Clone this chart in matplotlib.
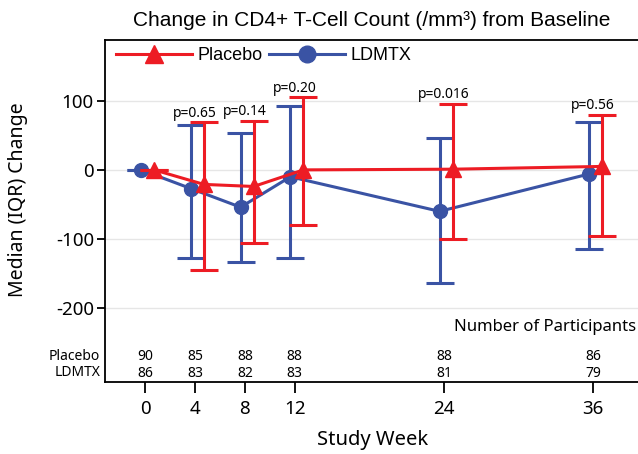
# CD4+ change from baseline, placebo vs LDMTX, median (IQR) by week
import numpy as np
import matplotlib
matplotlib.use("Agg")
import matplotlib.pyplot as plt
import matplotlib.transforms as mtransforms
from matplotlib.lines import Line2D

plt.rcParams["axes.unicode_minus"] = False

weeks = [0, 4, 8, 12, 24, 36]

placebo_med = [0, -21, -24, 0, 1, 5]
placebo_q1 = [0, -145, -106, -80, -100, -96]
placebo_q3 = [0, 69, 71, 105, 96, 80]

ldmtx_med = [0, -27, -54, -10, -60, -6]
ldmtx_q1 = [0, -127, -133, -127, -163, -114]
ldmtx_q3 = [0, 65, 53, 93, 46, 70]

p_labels = ["", "p=0.65", "p=0.14", "p=0.20", "p=0.016", "p=0.56"]
n_placebo = [90, 85, 88, 88, 88, 86]
n_ldmtx = [86, 83, 82, 83, 81, 79]

RED = "#ED1C24"
BLUE = "#3A53A4"

fig = plt.figure(figsize=(6.38, 4.54), dpi=100)
ax = fig.add_axes([0.1646, 0.1586, 0.8354, 0.7533])

x = np.array(weeks, dtype=float)
lm = np.array(ldmtx_med)
pm = np.array(placebo_med)

ax.errorbar(x - 0.35, lm, yerr=[lm - np.array(ldmtx_q1), np.array(ldmtx_q3) - lm],
            fmt="-o", color=BLUE, lw=2.2, ms=10, capsize=10, capthick=2.2,
            elinewidth=2.2, zorder=3)
ax.errorbar(x + 0.7, pm, yerr=[pm - np.array(placebo_q1), np.array(placebo_q3) - pm],
            fmt="-^", color=RED, lw=2.2, ms=11, capsize=10, capthick=2.2,
            elinewidth=2.2, zorder=4)

# p-values above the higher cap
for w, lab, a, b in zip(weeks, p_labels, placebo_q3, ldmtx_q3):
    if lab:
        ax.annotate(lab, (w, max(a, b)), xytext=(0, 1), textcoords="offset points",
                    ha="center", va="bottom", fontsize=10, family="Noto Sans")

ax.set_xlim(-3.25, 39.6)
ax.set_ylim(-307, 188)
ax.set_yticks([100, 0, -100, -200])
ax.set_xticks(weeks)
ax.yaxis.grid(True, color="#e6e6e6", lw=1)
ax.set_axisbelow(True)
ax.spines["right"].set_visible(False)
for s in ["left", "top", "bottom"]:
    ax.spines[s].set_linewidth(1.3)
ax.tick_params(axis="y", length=6, width=1.3, labelsize=13.5, pad=2)
ax.tick_params(axis="x", length=8, width=1.3, labelsize=13.5, pad=5)
for t in ax.get_xticklabels() + ax.get_yticklabels():
    t.set_family("Noto Sans")

ax.set_title("Change in CD4+ T-Cell Count (/mm³) from Baseline",
             fontsize=15, family="Liberation Sans", pad=10)

handles = [Line2D([], [], color=RED, lw=2.2, marker="^", ms=13),
           Line2D([], [], color=BLUE, lw=2.2, marker="o", ms=12)]
ax.legend(handles, ["Placebo", "LDMTX"], loc="upper left", ncol=2, frameon=False,
          handlelength=4.2, columnspacing=0.4, handletextpad=0.3,
          prop={"family": "Liberation Sans", "size": 13},
          bbox_to_anchor=(0.0, 1.01), borderaxespad=0.2)

# participant table at the bottom of the axes
trans = mtransforms.blended_transform_factory(ax.transData, ax.transAxes)
for w, a, b in zip(weeks, n_placebo, n_ldmtx):
    ax.text(w, 0.076, str(a), transform=trans, ha="center", va="center",
            fontsize=10, family="Noto Sans")
    ax.text(w, 0.026, str(b), transform=trans, ha="center", va="center",
            fontsize=10, family="Noto Sans")
fig.text(0.157, 1 - 356 / 454, "Placebo", ha="right", va="center",
         fontsize=10, family="Noto Sans")
fig.text(0.157, 1 - 373 / 454, "LDMTX", ha="right", va="center",
         fontsize=10, family="Noto Sans")
ax.text(0.996, 0.161, "Number of Participants", transform=ax.transAxes,
        ha="right", va="center", fontsize=12, family="Noto Sans")

fig.text(0.584, 1 - 440 / 454, "Study Week", ha="center", va="center",
         fontsize=14.5, family="Noto Sans")
fig.text(0.028, 1 - 200 / 454, "Median (IQR) Change", ha="center", va="center",
         rotation=90, fontsize=14, family="Noto Sans")

fig.savefig("out.png", dpi=100)
